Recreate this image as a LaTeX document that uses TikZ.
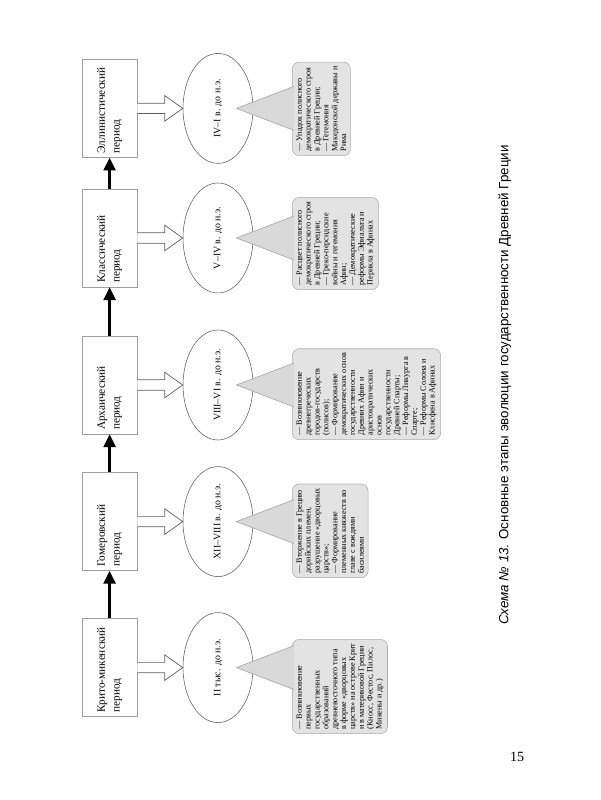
\documentclass[tikz,border=0pt]{standalone}
\usepackage{fontspec}
\setmainfont{Liberation Serif}
\newfontfamily\capfont{Liberation Sans}
\usetikzlibrary{arrows.meta, calc, shapes.geometric}

\begin{document}
\begin{tikzpicture}[
  >={Triangle[length=3.2mm, width=3mm]},
  period/.style={draw=gray!75, minimum width=2.45cm, minimum height=1.375cm, text width=2.25cm, align=left, inner sep=2pt, font=\fontsize{8}{10.5}\selectfont},
  date/.style  ={ellipse, draw=gray!75!black, minimum width=2.75cm, minimum height=1.75cm, inner sep=0pt, font=\fontsize{7}{8}\selectfont},
  note/.style  ={rounded corners=5pt, draw=gray!65, fill=gray!22, align=left, anchor=north west, inner sep=3pt, font=\fontsize{5.8}{6.3}\selectfont},
  link/.style  ={->, line width=1.8pt},
  hollow/.style={draw=gray!75!black, fill=white, line width=0.5pt},
  pointer/.style={draw=gray!65, fill=gray!30, line width=0.5pt},
]
  \useasboundingbox (0,0) rectangle (15,20);
  \node[font=\fontsize{10}{12}\selectfont] (pg) at (12.93,1.07) {15};

  \begin{scope}[rotate=90, transform shape]
  % periods
  \node[period] (p1) at (3.31,-2.74)  {Крито-микенский\\период};
  \node[period] (p2) at (6.96,-2.74)  {Гомеровский\\период};
  \node[period] (p3) at (10.375,-2.74){Архаический\\период};
  \node[period] (p4) at (14.05,-2.74) {Классический\\период};
  \node[period] (p5) at (17.29,-2.74) {Эллинистический\\период};
  % dates
  \node[date] (d1) at (3.31,-5.45)  {II тыс. до н.э.};
  \node[date] (d2) at (6.96,-5.45)  {XII–VIII в. до н.э.};
  \node[date] (d3) at (10.375,-5.45){VIII–VI в. до н.э.};
  \node[date] (d4) at (14.05,-5.45) {V–IV в. до н.э.};
  \node[date] (d5) at (17.29,-5.45) {IV–I в. до н.э.};
  % notes
  \node[note] (n1) at (1.65,-7.3) {— Возникновение\\ первых\\ государственных\\ образований\\ древневосточного типа\\ в форме «дворцовых\\ царств» на острове Крит\\ и в материковой Греции\\ (Кносс, Фестос, Пилос,\\ Микены и др.)};
  \node[note] (n2) at (5.55,-7.3) {— Вторжение в Грецию\\ дорийских племен,\\ разрушение «дворцовых\\ царств»;\\ — Формирование\\ племенных княжеств во\\ главе с вождями\\ басилеями};
  \node[note] (n3) at (9.0,-7.3) {— Возникновение\\ древнегреческих\\ городов-государств\\ (полисов);\\ — Формирование\\ демократических основ\\ государственности\\ Древних Афин и\\ аристократических\\ основ\\ государственности\\ Древней Спарты;\\ — Реформы Ликурга в\\ Спарте;\\ — Реформы Солона и\\ Клисфена в Афинах};
  \node[note] (n4) at (12.75,-7.3) {— Расцвет полисного\\ демократического строя\\ в Древней Греции;\\ — Греко-персидские\\ войны и гегемония\\ Афин;\\ — Демократические\\ реформы Эфиальта и\\ Перикла в Афинах};
  \node[note] (n5) at (16.1,-7.3) {— Упадок полисного\\ демократического строя\\ в Древней Греции;\\ — Гегемония\\ Македонской державы и\\ Рима};

  \foreach \a/\b in {p1/p2,p2/p3,p3/p4,p4/p5}\draw[link](\a)--(\b);
  % hollow arrows period -> date
  \foreach \a/\b in {p1/d1,p2/d2,p3/d3,p4/d4,p5/d5}
    \draw[hollow] ($(\a.south)+(-0.13,0)$) -- ($(\b.north)+(-0.13,0.45)$) -- ($(\b.north)+(-0.32,0.45)$)
      -- (\b.north) -- ($(\b.north)+(0.32,0.45)$) -- ($(\b.north)+(0.13,0.45)$) -- ($(\a.south)+(0.13,0)$);
  % callout pointers date -> note
  \foreach \b in {d1,d2,d3,d4,d5}
    \path[pointer] ($(\b.south)+(-0.55,-1.02)$) -- ($(\b.south)+(0,0.42)$) -- ($(\b.south)+(0.55,-1.02)$);

  \node[font=\capfont\fontsize{9.5}{11}\selectfont] (cap) at (10.375,-12.62)
    {\textit{Схема № 13}. Основные этапы эволюции государственности Древней Греции};
  \end{scope}
\end{tikzpicture}
\end{document}
